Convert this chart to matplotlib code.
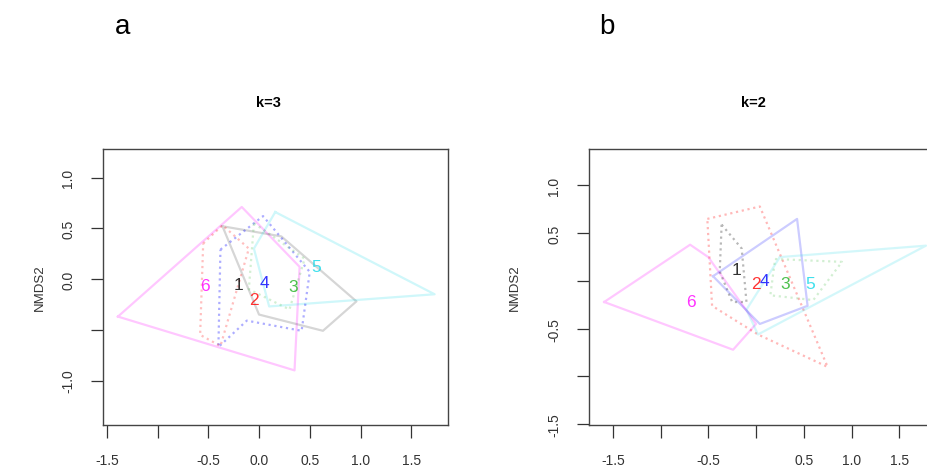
import matplotlib.pyplot as plt
import numpy as np

plt.rcParams['font.family'] = ['Liberation Sans', 'DejaVu Sans']

groups = ['1', '2', '3', '4', '5', '6']
group_colors = ['black', 'red', '#22B022', 'blue', '#10D8E8', 'magenta']

# panel a (k=3): group label positions (NMDS1, NMDS2)
a_x = [-0.20, -0.05, 0.34, 0.05, 0.56, -0.53]
a_y = [-0.05, -0.20, -0.07, -0.03, 0.12, -0.06]

# panel b (k=2)
b_x = [-0.20, 0.00, 0.31, 0.09, 0.57, -0.68]
b_y = [0.12, -0.03, -0.03, 0.00, -0.03, -0.22]

# hull outlines: (group index, line style, alpha, vertices)
a_hulls = [
    (5, '-', 0.22, [(-1.39, -0.37), (-0.17, 0.71), (0.40, 0.12), (0.35, -0.90)]),
    (0, '-', 0.16, [(-0.36, 0.52), (0.22, 0.42), (0.96, -0.22), (0.63, -0.51), (0.00, -0.35)]),
    (4, '-', 0.20, [(0.16, 0.66), (1.73, -0.15), (0.10, -0.27), (-0.05, 0.30)]),
    (3, ':', 0.32, [(-0.38, 0.29), (0.04, 0.62), (0.50, 0.07), (0.42, -0.51), (-0.12, -0.41), (-0.40, -0.67)]),
    (1, ':', 0.25, [(-0.55, 0.35), (-0.36, 0.53), (-0.10, 0.30), (-0.38, -0.66), (-0.58, -0.55)]),
    (2, ':', 0.20, [(-0.05, 0.55), (0.45, 0.20), (0.30, -0.30), (-0.10, -0.10)]),
]
b_hulls = [
    (5, '-', 0.22, [(-1.59, -0.22), (-0.69, 0.38), (-0.50, 0.25), (0.00, -0.45), (-0.24, -0.72)]),
    (1, ':', 0.28, [(-0.51, 0.65), (0.04, 0.78), (0.75, -0.90), (0.02, -0.56), (-0.46, -0.26)]),
    (0, ':', 0.28, [(-0.36, 0.59), (-0.15, 0.34), (-0.10, -0.22), (-0.25, -0.22), (-0.38, 0.10)]),
    (3, '-', 0.20, [(-0.45, 0.05), (0.43, 0.65), (0.54, -0.26), (0.04, -0.45)]),
    (4, '-', 0.18, [(0.25, 0.25), (1.78, 0.37), (0.02, -0.56), (-0.10, -0.30)]),
    (2, ':', 0.20, [(0.20, 0.23), (0.90, 0.20), (0.60, -0.20), (0.15, -0.15)]),
]

xticks = [-1.5, -1.0, -0.5, 0.0, 0.5, 1.0, 1.5]
a_xlabels = ['-1.5', '', '-0.5', '0.0', '0.5', '1.0', '1.5']
b_xlabels = ['-1.5', '', '-0.5', '', '0.5', '1.0', '1.5']
a_yticks = [-1.0, -0.5, 0.0, 0.5, 1.0]
a_ylabels = ['-1.0', '', '0.0', '0.5', '1.0']
b_yticks = [-1.5, -1.0, -0.5, 0.0, 0.5, 1.0]
b_ylabels = ['-1.5', '', '-0.5', '', '0.5', '1.0']


def panel(ax, hulls, lx, ly, xlim, ylim, xlab, yt, ylab):
    for gi, ls, al, pts in hulls:
        p = np.array(pts + [pts[0]])
        ax.plot(p[:, 0], p[:, 1], ls, color=group_colors[gi], alpha=al, lw=1.6)
    for i in range(len(groups)):
        ax.text(lx[i], ly[i], groups[i], color=group_colors[i], fontsize=12.5,
                ha='center', va='center', alpha=0.8)
    ax.set_xlim(xlim)
    ax.set_ylim(ylim)
    ax.set_xticks(xticks)
    ax.set_xticklabels(xlab)
    ax.set_yticks(yt)
    ax.set_yticklabels(ylab, rotation=90, va='center')
    ax.tick_params(length=9, width=0.9, labelsize=10, colors='#333333')
    ax.tick_params(axis='x', pad=11)
    ax.tick_params(axis='y', pad=11)
    for s in ax.spines.values():
        s.set_color('#444444')
        s.set_linewidth(1.0)
    ax.set_ylabel('NMDS2', fontsize=9.5, color='#333333')


fig = plt.figure(figsize=(9.27, 4.77), dpi=100)

ax1 = fig.add_axes([103/927, 51/477, 345/927, 276/477])
panel(ax1, a_hulls, a_x, a_y, (-1.537, 1.862), (-1.438, 1.281), a_xlabels, a_yticks, a_ylabels)
ax1.yaxis.set_label_coords(-0.165, 0.5)

ax2 = fig.add_axes([589/927, 51/477, 341/927, 276/477])
panel(ax2, b_hulls, b_x, b_y, (-1.749, 1.822), (-1.508, 1.382), b_xlabels, b_yticks, b_ylabels)
ax2.yaxis.set_label_coords(-0.2, 0.5)

fig.text(268/927, 1 - 103/477, 'k=3', fontsize=10.5, fontweight='bold', ha='center', va='center')
fig.text(753/927, 1 - 103/477, 'k=2', fontsize=10.5, fontweight='bold', ha='center', va='center')
fig.text(123/927, 1 - 27/477, 'a', fontsize=20, ha='center', va='center')
fig.text(607/927, 1 - 27/477, 'b', fontsize=20, ha='center', va='center')

plt.savefig('out.png', dpi=100)
